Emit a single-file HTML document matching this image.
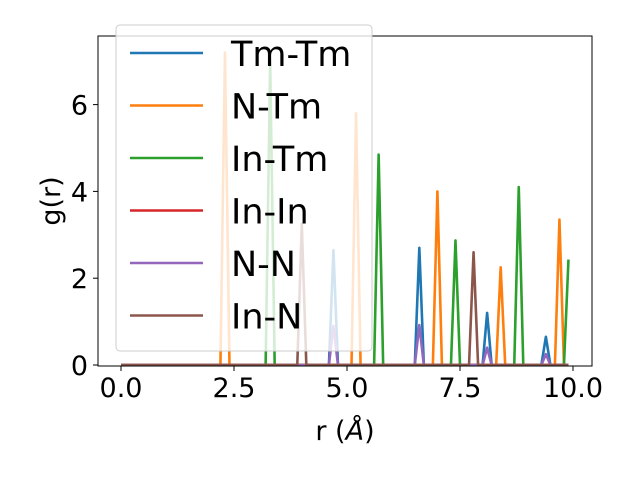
<!DOCTYPE html>
<html><head><meta charset="utf-8"><style>body{margin:0;background:#fff}svg{display:block;font-family:"DejaVu Sans","Liberation Sans",sans-serif}</style></head>
<body>
<svg id="c" width="640" height="480"></svg>
<script>
const seriesNames=["Tm-Tm","N-Tm","In-Tm","In-In","N-N","In-N"];
const colors=["#1f77b4","#ff7f0e","#2ca02c","#d62728","#9467bd","#8c564b"];
const peaksTmTm=[[4.7,2.65],[6.6,2.7],[8.1,1.2],[9.4,0.65]];
const peaksNTm=[[2.3,7.2],[5.2,5.8],[7.0,4.0],[8.4,2.25],[9.7,3.35]];
const peaksInTm=[[3.3,7.0],[5.7,4.85],[7.4,2.87],[8.8,4.1],[9.9,2.43]];
const peaksInIn=[];
const peaksNN=[[4.7,0.9],[6.6,0.92],[8.1,0.4],[9.4,0.25]];
const peaksInN=[[4.0,3.25],[7.8,2.6]];
const xTicks=[0,2.5,5,7.5,10];
const xTickLabels=["0.0","2.5","5.0","7.5","10.0"];
const yTicks=[0,2,4,6];
const NS="http://www.w3.org/2000/svg";
const svg=document.getElementById('c');
const L=98,R=592,T=36,B=366;
const X=v=>121+v*45.2, Y=v=>365-v*43.4;
function mk(t,a,p){const e=document.createElementNS(NS,t);for(const k in a)e.setAttribute(k,a[k]);(p||svg).appendChild(e);return e;}
const all=[peaksTmTm,peaksNTm,peaksInTm,peaksInIn,peaksNN,peaksInN];
all.forEach((pk,i)=>{
  const vals=[];for(let k=0;k<100;k++)vals.push(0);
  pk.forEach(([r,v])=>{vals[Math.round(r*10)]=v;});
  let d="";vals.forEach((v,k)=>{d+=(k?"L":"M")+X(k/10).toFixed(2)+","+Y(v).toFixed(2);});
  const p=mk('path',{d:d,fill:'none',stroke:colors[i],'stroke-width':2.6,'stroke-linejoin':'round'});
  
  
});
const fr=mk('rect',{x:L,y:T,width:R-L,height:B-T,fill:'none',stroke:'#000','stroke-width':1});

xTicks.forEach((v,i)=>{
  const l=mk('line',{x1:X(v),x2:X(v),y1:B,y2:B+5,stroke:'#000'});
  
  const t=mk('text',{x:X(v),y:B+31,'font-size':27,'text-anchor':'middle'});t.textContent=xTickLabels[i];
  
});
yTicks.forEach(v=>{
  const l=mk('line',{x1:L-5,x2:L,y1:Y(v),y2:Y(v),stroke:'#000'});
  
  const t=mk('text',{x:L-10,y:Y(v)+10,'font-size':27,'text-anchor':'end'});t.textContent=String(v);
  
});
const lg=mk('g',{});
mk('rect',{x:116,y:25,width:256,height:326,rx:4,fill:'#fff','fill-opacity':0.8,stroke:'#ccc'},lg);
seriesNames.forEach((n,i)=>{
  const y=53+i*52.5;
  const l=mk('line',{x1:130,x2:203,y1:y,y2:y,stroke:colors[i],'stroke-width':2.6},lg);
  
  const t=mk('text',{x:231,y:y+13,'font-size':35},lg);t.textContent=n;
  
});
</script>
<svg style="position:absolute;left:0;top:0" width="640" height="480">
<text x="345" y="440" font-size="27" text-anchor="middle" font-family="DejaVu Sans, Liberation Sans, sans-serif">r (<tspan font-style="italic">Å</tspan>)</text>
<text transform="translate(60,201) rotate(-90)" font-size="27" text-anchor="middle" font-family="DejaVu Sans, Liberation Sans, sans-serif">g(r)</text>
</svg>
</body></html>
